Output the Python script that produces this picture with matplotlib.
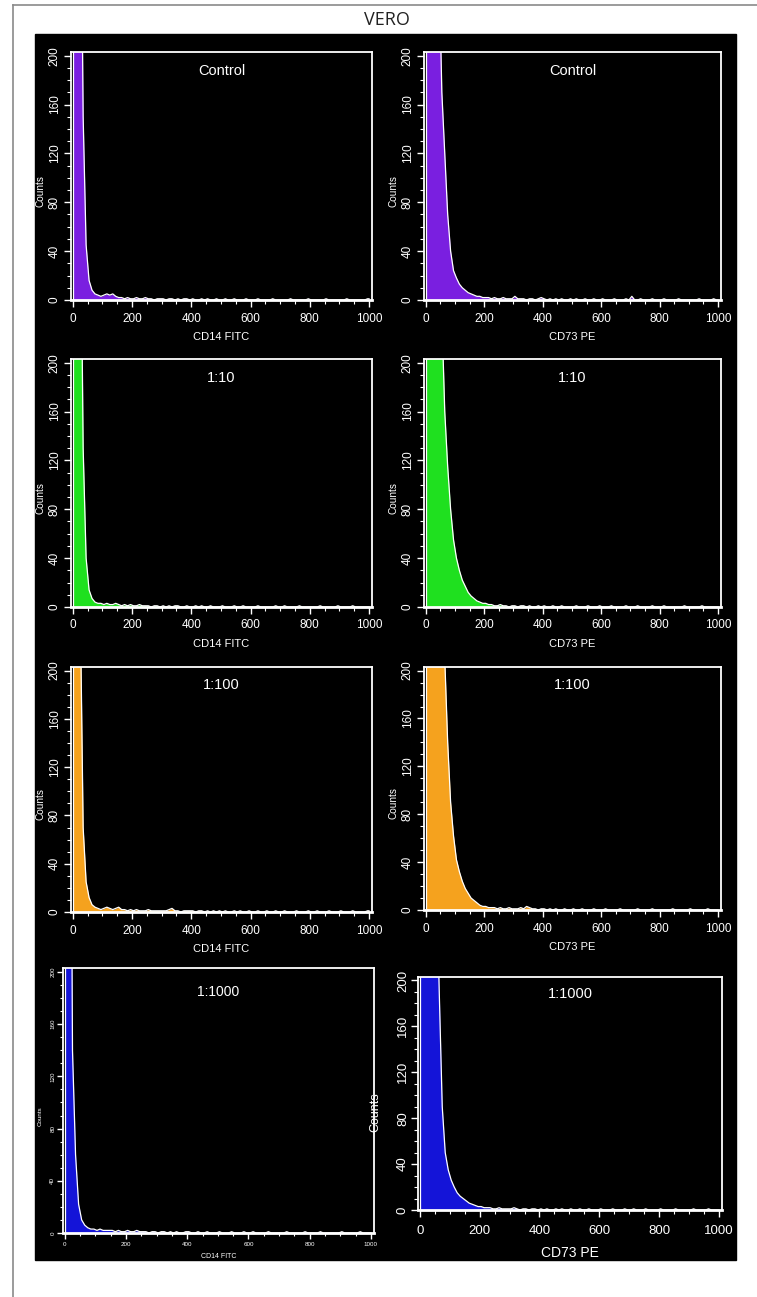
import numpy as np
import matplotlib
matplotlib.use("Agg")
import matplotlib.pyplot as plt
from matplotlib.patches import Rectangle
from matplotlib.lines import Line2D
from matplotlib.ticker import MultipleLocator

# ---------------- data (counts per 10-channel bin, 0..1000) ----------------
bin_centers = np.arange(5, 1000, 10)

cd14_control = [620, 610, 420, 150, 45, 16, 8, 5, 4, 3,
                4, 5, 4, 5, 3, 2, 2, 1, 2, 1,
                1, 2, 1, 1, 2, 1, 1, 0, 1, 1,
                1, 0, 1, 1, 0, 1, 0, 1, 1, 0,
                1, 0, 0, 1, 0, 1, 0, 0, 1, 0,
                0, 1, 0, 0, 1, 0, 0, 0, 1, 0,
                0, 0, 1, 0, 0, 0, 0, 1, 0, 0,
                0, 0, 0, 1, 0, 0, 0, 0, 0, 1,
                0, 0, 0, 0, 0, 1, 0, 0, 0, 0,
                0, 0, 1, 0, 0, 0, 0, 0, 0, 1]
cd73_control = [640, 650, 620, 480, 280, 170, 120, 70, 40, 24,
                18, 13, 10, 8, 6, 5, 4, 3, 3, 2,
                2, 2, 1, 2, 1, 1, 2, 1, 1, 1,
                3, 1, 1, 1, 0, 1, 1, 0, 1, 2,
                1, 0, 1, 0, 1, 0, 1, 0, 0, 1,
                0, 1, 0, 0, 1, 0, 0, 1, 0, 0,
                1, 0, 0, 0, 1, 0, 0, 0, 1, 0,
                3, 0, 0, 1, 0, 0, 0, 1, 0, 0,
                0, 1, 0, 0, 0, 0, 1, 0, 0, 0,
                0, 0, 0, 1, 0, 0, 0, 0, 1, 0]
cd14_1_10 = [630, 600, 380, 130, 40, 14, 7, 4, 3, 3,
             2, 3, 2, 2, 3, 2, 1, 2, 1, 2,
             1, 1, 2, 1, 1, 1, 0, 1, 1, 0,
             1, 0, 1, 0, 1, 1, 0, 0, 1, 0,
             0, 1, 0, 1, 0, 0, 1, 0, 0, 0,
             1, 0, 0, 0, 1, 0, 0, 1, 0, 0,
             0, 0, 1, 0, 0, 0, 0, 0, 1, 0,
             0, 1, 0, 0, 0, 0, 1, 0, 0, 0,
             0, 0, 0, 1, 0, 0, 0, 0, 0, 1,
             0, 0, 0, 0, 1, 0, 0, 0, 0, 0]
cd73_1_10 = [650, 660, 640, 560, 380, 240, 160, 115, 80, 55,
             40, 30, 22, 17, 12, 9, 7, 5, 4, 3,
             3, 2, 2, 1, 1, 2, 1, 1, 0, 1,
             1, 0, 1, 1, 0, 1, 0, 0, 1, 0,
             1, 0, 0, 1, 0, 0, 1, 0, 0, 0,
             0, 1, 0, 0, 0, 1, 0, 0, 0, 1,
             0, 0, 0, 1, 0, 0, 0, 0, 1, 0,
             0, 0, 1, 0, 0, 0, 0, 1, 0, 0,
             0, 1, 0, 0, 0, 0, 0, 0, 1, 0,
             0, 0, 0, 0, 1, 0, 0, 0, 0, 0]
cd14_1_100 = [620, 560, 260, 70, 25, 12, 6, 4, 3, 2,
              3, 4, 3, 2, 3, 4, 2, 2, 1, 2,
              1, 2, 1, 1, 1, 2, 1, 1, 1, 1,
              1, 1, 2, 3, 1, 1, 0, 1, 1, 1,
              1, 0, 1, 1, 0, 1, 0, 1, 0, 1,
              0, 1, 0, 0, 1, 0, 1, 0, 0, 1,
              0, 0, 1, 0, 0, 1, 0, 0, 1, 0,
              0, 1, 0, 0, 0, 1, 0, 0, 0, 1,
              0, 0, 1, 0, 0, 0, 1, 0, 0, 0,
              1, 0, 0, 0, 1, 0, 0, 0, 0, 1]
cd73_1_100 = [650, 660, 650, 600, 480, 320, 210, 140, 90, 62,
              42, 32, 24, 18, 14, 10, 8, 6, 4, 3,
              3, 2, 2, 2, 1, 2, 1, 1, 2, 1,
              1, 1, 2, 1, 3, 2, 1, 1, 0, 1,
              1, 0, 1, 0, 1, 0, 0, 1, 0, 0,
              1, 0, 0, 1, 0, 0, 0, 1, 0, 0,
              0, 1, 0, 0, 0, 0, 1, 0, 0, 0,
              0, 0, 1, 0, 0, 0, 0, 1, 0, 0,
              0, 0, 0, 0, 1, 0, 0, 0, 0, 0,
              1, 0, 0, 0, 0, 0, 1, 0, 0, 0]
cd14_1_1000 = [620, 600, 140, 60, 22, 10, 6, 4, 3, 3,
               2, 3, 2, 2, 2, 2, 1, 2, 1, 1,
               2, 1, 1, 2, 1, 1, 1, 0, 1, 1,
               0, 1, 1, 0, 1, 0, 1, 0, 0, 1,
               1, 0, 0, 1, 0, 0, 1, 0, 0, 0,
               1, 0, 0, 0, 1, 0, 0, 0, 1, 0,
               0, 1, 0, 0, 0, 0, 1, 0, 0, 0,
               0, 0, 1, 0, 0, 0, 0, 0, 1, 0,
               0, 0, 0, 1, 0, 0, 0, 0, 0, 0,
               1, 0, 0, 0, 0, 0, 1, 0, 0, 0]
cd73_1_1000 = [650, 660, 640, 560, 420, 300, 190, 90, 50, 35,
               26, 20, 15, 12, 10, 8, 6, 5, 4, 3,
               3, 2, 2, 2, 1, 1, 2, 1, 1, 1,
               1, 2, 1, 0, 1, 1, 0, 1, 1, 0,
               1, 0, 1, 0, 0, 1, 0, 1, 0, 0,
               1, 0, 0, 1, 0, 0, 1, 0, 0, 0,
               1, 0, 0, 0, 1, 0, 0, 0, 1, 0,
               0, 1, 0, 0, 0, 1, 0, 0, 0, 0,
               1, 0, 0, 0, 0, 1, 0, 0, 0, 0,
               0, 1, 0, 0, 0, 0, 1, 0, 0, 0]

row_titles = ["Control", "1:10", "1:100", "1:1000"]
row_colors = ["#7a1fe0", "#1fe01f", "#f5a21e", "#1414d8"]
left_series = [cd14_control, cd14_1_10, cd14_1_100, cd14_1_1000]
right_series = [cd73_control, cd73_1_10, cd73_1_100, cd73_1_1000]
left_xlabel = "CD14 FITC"
right_xlabel = "CD73 PE"
x_ticks = [0, 200, 400, 600, 800, 1000]
y_ticks = [0, 40, 80, 120, 160, 200]

# ---------------- layout (pixels) ----------------
W, H = 757, 1297
FONT = ["Liberation Sans", "DejaVu Sans"]

# frame boxes x0, y0, x1, y1
panels = [
    [(71, 52, 372, 300), (424, 52, 721, 300)],
    [(71, 359, 372, 607), (424, 359, 721, 607)],
    [(71, 667, 372, 912), (424, 667, 721, 910)],
    [(63, 968, 374, 1233), (418, 977, 722, 1210)],
]


def box(x0, y0, x1, y1):
    return [x0 / W, 1 - y1 / H, (x1 - x0) / W, (y1 - y0) / H]


def draw_hist(ax, counts, color, title, xlabel, small=1.0, tick_fs=8.5,
              label_fs=8, title_fs=10.5, xpad=4, ypad=2.4):
    ax.set_facecolor("black")
    xs = np.concatenate([[0], bin_centers, [1000]])
    ys = np.concatenate([[counts[0]], counts, [counts[-1]]])
    ax.fill_between(xs, ys, color=color, lw=0, zorder=2)
    ax.plot(xs, ys, color="white", lw=0.9, zorder=3)
    ax.plot([0, 0], [0, ys[0]], color="white", lw=0.9, zorder=3)
    ax.set_xlim(-6, 1010)
    ax.set_ylim(0, 203)
    for s in ax.spines.values():
        s.set_color("white")
        s.set_linewidth(1.3)
        s.set_zorder(4)
    ax.spines["bottom"].set_linewidth(2.0)
    ax.set_xticks(x_ticks)
    ax.set_yticks(y_ticks)
    ax.xaxis.set_minor_locator(MultipleLocator(50))
    ax.yaxis.set_minor_locator(MultipleLocator(10))
    ax.tick_params(which="major", colors="white", length=5 * small, width=1.0,
                   labelsize=tick_fs)
    ax.tick_params(which="minor", colors="white", length=3 * small, width=0.8)
    ax.tick_params(axis="x", pad=xpad)
    ax.tick_params(axis="y", labelrotation=90, pad=ypad)
    for lab in ax.get_xticklabels() + ax.get_yticklabels():
        lab.set_family(FONT)
    for lab in ax.get_yticklabels():
        lab.set_va("center")
    ax.set_xlabel(xlabel, color="white", fontsize=label_fs, family=FONT)
    ax.set_ylabel("Counts", color="white", fontsize=label_fs * 0.9, family=FONT)
    ax.xaxis.set_label_coords(0.5, -0.13)
    ax.yaxis.set_label_coords(-0.085, 0.44)
    ax.text(0.5, 0.925, title, transform=ax.transAxes, color="white",
            ha="center", va="center", fontsize=title_fs, family=FONT)


fig = plt.figure(figsize=(W / 100, H / 100), dpi=100)
fig.patch.set_facecolor("white")

# outer border and black backdrop
fig.add_artist(Line2D([13 / W, 13 / W], [0, 1 - 5 / H], color="#8a8a8a", lw=1.2))
fig.add_artist(Line2D([13 / W, 1], [1 - 5 / H, 1 - 5 / H], color="#8a8a8a", lw=1.2))
fig.add_artist(Rectangle((35 / W, 1 - 1260 / H), (736 - 35) / W, (1260 - 34) / H,
                         transform=fig.transFigure, color="black", zorder=0))
fig.text(387 / W, 1 - 20 / H, "VERO", ha="center", va="center", fontsize=13,
         family=["Open Sans", "DejaVu Sans"], color="#222222")

for r in range(4):
    lb, rb = panels[r]
    axl = fig.add_axes(box(*lb))
    axr = fig.add_axes(box(*rb))
    if r < 3:
        draw_hist(axl, left_series[r], row_colors[r], row_titles[r], left_xlabel)
        draw_hist(axr, right_series[r], row_colors[r], row_titles[r], right_xlabel)
    else:
        draw_hist(axl, left_series[r], row_colors[r], row_titles[r], left_xlabel,
                  small=0.8, tick_fs=4.5, label_fs=5, title_fs=10, xpad=2.5,
                  ypad=1.5)
        axl.xaxis.set_label_coords(0.5, -0.075)
        axl.yaxis.set_label_coords(-0.065, 0.44)
        axl.texts[0].set_y(0.91)
        draw_hist(axr, right_series[r], row_colors[r], row_titles[r], right_xlabel,
                  tick_fs=9.5, label_fs=10, title_fs=10.5, xpad=6, ypad=1.5)
        axr.xaxis.set_label_coords(0.5, -0.155)
        axr.yaxis.set_label_coords(-0.122, 0.42)

fig.savefig("out.png", dpi=100, facecolor="white")
